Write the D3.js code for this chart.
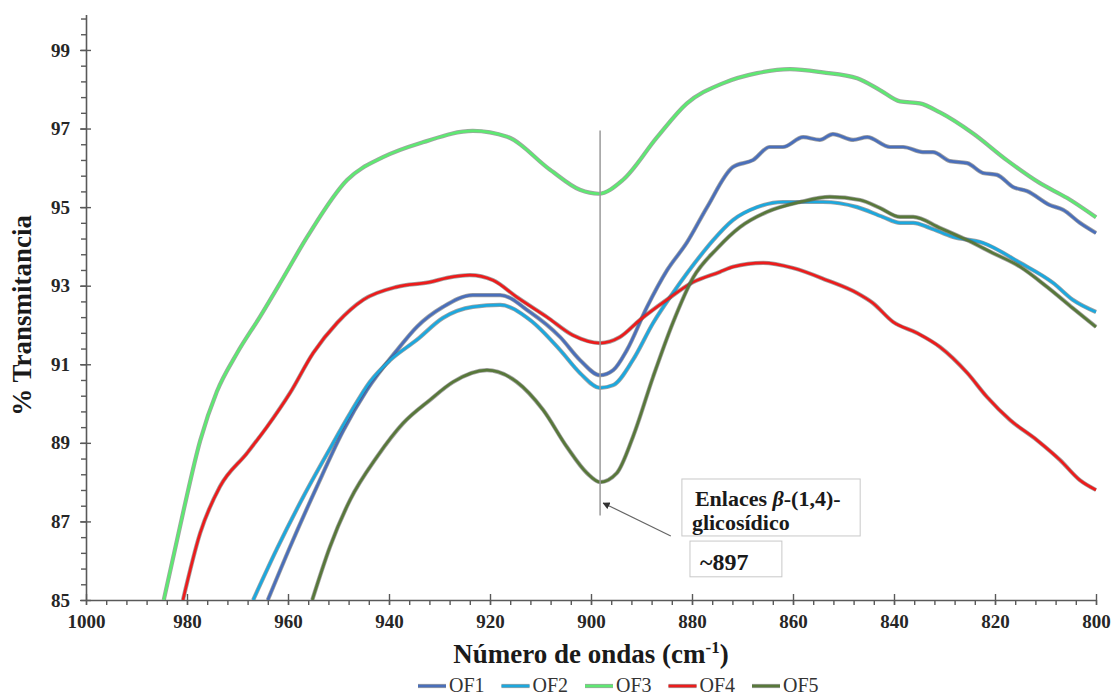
<!DOCTYPE html>
<html>
<head>
<meta charset="utf-8">
<script src="https://cdn.jsdelivr.net/npm/d3@7/dist/d3.min.js"></script>
<style>
  html, body { margin: 0; padding: 0; background: #fff; }
  svg { display: block; font-family: "Liberation Serif", "Times New Roman", serif; }
</style>
</head>
<body>
<svg id="chart" width="1113" height="696"></svg>
<script>
// ---------- DATA ----------
const seriesNames = ["OF1", "OF2", "OF3", "OF4", "OF5"];

const of1Wn = [964.0, 959.6, 954.3, 949.1, 944.4, 938.4, 934.5, 929.3, 923.4, 918.0, 912.1, 906.1, 902.2, 898.2, 895.6, 892.9, 888.9, 884.9, 881.0, 877.0, 871.9, 867.9, 864.6, 862.0, 858.0, 854.7, 852.1, 848.1, 845.3, 840.8, 838.2, 834.3, 832.3, 828.9, 825.5, 822.4, 819.6, 816.4, 813.7, 809.1, 806.5, 803.2, 800];
const of1T  = [85.0, 86.35, 87.88, 89.30, 90.34, 91.36, 91.95, 92.46, 92.76, 92.76, 92.33, 91.69, 91.11, 90.72, 90.85, 91.36, 92.46, 93.40, 94.10, 95.00, 96.02, 96.20, 96.53, 96.53, 96.78, 96.71, 96.86, 96.71, 96.78, 96.53, 96.53, 96.40, 96.40, 96.17, 96.12, 95.87, 95.82, 95.51, 95.41, 95.05, 94.93, 94.60, 94.34];

const of2Wn = [966.9, 962.2, 957.0, 951.7, 947.7, 943.8, 939.8, 934.5, 929.3, 923.4, 918.0, 912.1, 906.1, 902.2, 898.2, 895.6, 891.7, 887.7, 883.8, 877.8, 875.8, 871.9, 867.1, 862.0, 854.1, 847.3, 842.2, 838.8, 836.2, 832.9, 828.3, 822.4, 815.0, 808.5, 804.6, 800];
const of2T  = [85.0, 86.30, 87.62, 88.85, 89.75, 90.55, 91.10, 91.62, 92.18, 92.46, 92.51, 92.13, 91.36, 90.78, 90.40, 90.47, 91.11, 92.05, 92.81, 93.85, 94.16, 94.67, 95.00, 95.13, 95.13, 95.00, 94.75, 94.60, 94.60, 94.47, 94.24, 94.09, 93.58, 93.07, 92.64, 92.33];

const of3Wn = [984.6, 980.8, 977.4, 974.1, 970.1, 965.5, 961.0, 956.2, 948.3, 941.2, 933.3, 923.4, 916.6, 908.1, 902.2, 898.5, 893.7, 886.9, 881.0, 873.9, 867.1, 860.6, 854.1, 847.3, 842.8, 838.8, 834.9, 830.9, 824.4, 817.6, 811.1, 805.7, 800];
const of3T  = [85.0, 87.21, 89.05, 90.30, 91.28, 92.22, 93.19, 94.24, 95.69, 96.27, 96.65, 96.94, 96.79, 95.95, 95.44, 95.34, 95.69, 96.78, 97.64, 98.15, 98.41, 98.51, 98.43, 98.28, 97.98, 97.69, 97.64, 97.41, 96.88, 96.19, 95.61, 95.23, 94.74];

const of4Wn = [980.8, 977.4, 973.5, 968.1, 964.2, 959.6, 955.0, 950.3, 945.1, 938.4, 931.9, 928.5, 924.0, 919.4, 914.7, 908.7, 903.6, 898.2, 894.3, 890.3, 885.0, 879.8, 874.5, 871.9, 865.9, 860.0, 853.3, 847.3, 844.2, 840.2, 835.5, 830.9, 825.5, 821.6, 817.0, 811.7, 807.1, 803.2, 800];
const of4T  = [85.0, 86.70, 87.88, 88.74, 89.40, 90.27, 91.29, 92.05, 92.64, 92.97, 93.09, 93.20, 93.27, 93.14, 92.71, 92.20, 91.74, 91.54, 91.69, 92.13, 92.64, 93.09, 93.35, 93.48, 93.58, 93.45, 93.14, 92.81, 92.56, 92.08, 91.80, 91.44, 90.78, 90.17, 89.58, 89.07, 88.56, 88.05, 87.80];

const of5Wn = [955.2, 951.7, 947.7, 942.4, 937.2, 931.9, 927.3, 920.6, 914.7, 909.5, 904.8, 900.8, 898.2, 894.9, 891.7, 887.7, 883.8, 879.8, 875.0, 870.5, 865.1, 858.6, 852.7, 846.7, 842.8, 838.8, 836.2, 830.9, 825.5, 820.4, 815.0, 809.7, 804.6, 800];
const of5T  = [85.0, 86.35, 87.55, 88.64, 89.50, 90.09, 90.55, 90.85, 90.55, 89.84, 88.90, 88.23, 88.00, 88.23, 89.15, 90.68, 92.05, 93.20, 93.95, 94.49, 94.88, 95.13, 95.26, 95.18, 94.98, 94.75, 94.75, 94.47, 94.16, 93.83, 93.48, 92.97, 92.43, 91.95];

const xMajorTicks = [1000, 980, 960, 940, 920, 900, 880, 860, 840, 820, 800];
const yMajorTicks = [85, 87, 89, 91, 93, 95, 97, 99];

// annotation (in data units)
const peakWn = 898.2;
const peakLine = [96.95, 87.15];
const arrowTail = [884.2, 86.63];
const arrowHead = [897.6, 87.47];
const box1 = [882.0, 846.7, 88.08, 86.63];
const box2 = [880.4, 862.2, 86.50, 85.59];

// ---------- STYLE ----------
const colors = ["#4a6fba", "#1ca8de", "#5ee872", "#ec1c1c", "#58783a"];
const seriesData = [
  [of1Wn, of1T], [of2Wn, of2T], [of3Wn, of3T], [of4Wn, of4T], [of5Wn, of5T]
].map(([w, t], i) => ({ name: seriesNames[i], color: colors[i], pts: w.map((v, j) => ({ x: v, y: t[j] })) }));

const svg = d3.select("#chart");
const x = d3.scaleLinear().domain([1000, 800]).range([86, 1096]);
const y = d3.scaleLinear().domain([85, 99.9]).range([600, 14.6]);
const axisColor = "#595959";
const serif = "Liberation Serif, Times New Roman, serif";

// clip
svg.append("defs").append("clipPath").attr("id", "plotClip")
  .append("rect").attr("x", x(1000)).attr("y", y(99.9)).attr("width", x(800) - x(1000) + 2).attr("height", y(85) - y(99.9));

// ---------- AXES ----------
const xMinor = d3.range(1000, 799, -4);
const yMinor = d3.range(0, 38).map(i => +(85 + i * 0.4).toFixed(1)).filter(v => v <= 99.9);

svg.append("g").attr("transform", `translate(0,${y(85)})`)
  .call(d3.axisBottom(x).tickValues(xMinor).tickFormat("").tickSize(5).tickSizeOuter(0))
  .call(g => g.select(".domain").remove())
  .call(g => g.selectAll("line").attr("stroke", axisColor).attr("stroke-width", 1.4));
svg.append("g").attr("transform", `translate(${x(1000)},0)`)
  .call(d3.axisLeft(y).tickValues(yMinor).tickFormat("").tickSize(5).tickSizeOuter(0))
  .call(g => g.select(".domain").remove())
  .call(g => g.selectAll("line").attr("stroke", axisColor).attr("stroke-width", 1.4));

svg.append("g").attr("transform", `translate(0,${y(85)})`)
  .call(d3.axisBottom(x).tickValues(xMajorTicks).tickFormat(d3.format("d")).tickSize(5).tickSizeOuter(0).tickPadding(10))
  .call(g => g.select(".domain").attr("stroke", axisColor).attr("stroke-width", 1.6))
  .call(g => g.selectAll(".tick line").attr("stroke", axisColor).attr("stroke-width", 1.4).attr("y1", -6))
  .call(g => g.selectAll("text").attr("fill", "#262626").attr("font-size", 19).attr("font-weight", "bold")
    .attr("font-family", serif));

svg.append("g").attr("transform", `translate(${x(1000)},0)`)
  .call(d3.axisLeft(y).tickValues(yMajorTicks).tickFormat(d3.format("d")).tickSize(6).tickSizeOuter(0).tickPadding(10))
  .call(g => g.select(".domain").attr("stroke", axisColor).attr("stroke-width", 1.6))
  .call(g => g.selectAll(".tick line").attr("stroke", axisColor).attr("stroke-width", 1.4).attr("x1", 5))
  .call(g => g.selectAll("text").attr("fill", "#262626").attr("font-size", 19).attr("font-weight", "bold")
    .attr("font-family", serif));

// axis titles
svg.append("text")
  .attr("transform", `translate(31,${(y(85) + y(99.9)) / 2 + 8}) rotate(-90)`)
  .attr("text-anchor", "middle").attr("font-family", serif).attr("font-size", 27).attr("font-weight", "bold").attr("fill", "#1a1a1a")
  .text("% Transmitancia");

const xt = svg.append("text")
  .attr("x", (x(1000) + x(800)) / 2).attr("y", 663)
  .attr("text-anchor", "middle").attr("font-family", serif).attr("font-size", 27).attr("font-weight", "bold").attr("fill", "#1a1a1a");
xt.append("tspan").text("Número de ondas (cm");
xt.append("tspan").attr("font-size", 17).attr("dy", -10).text("-1");
xt.append("tspan").attr("dy", 10).text(")");

// ---------- LINES ----------
const line = d3.line().x(d => x(d.x)).y(d => y(d.y)).curve(d3.curveMonotoneX);
const plot = svg.append("g").attr("clip-path", "url(#plotClip)");

svg.append("line")
  .attr("x1", x(peakWn)).attr("x2", x(peakWn)).attr("y1", y(peakLine[0])).attr("y2", y(peakLine[1]))
  .attr("stroke", "#9a9a9a").attr("stroke-width", 1.5);

seriesData.forEach(s => {
  plot.append("path").datum(s.pts).attr("d", line)
    .attr("fill", "none").attr("stroke", "#555").attr("stroke-opacity", 0.55).attr("stroke-width", 4.2)
    .attr("stroke-linejoin", "round");
  plot.append("path").datum(s.pts).attr("d", line)
    .attr("fill", "none").attr("stroke", s.color).attr("stroke-width", 2.7)
    .attr("stroke-linejoin", "round");
});

// ---------- ANNOTATION ----------
svg.append("defs").append("marker").attr("id", "arrowHead")
  .attr("viewBox", "0 0 10 10").attr("refX", 9).attr("refY", 5)
  .attr("markerWidth", 6).attr("markerHeight", 6).attr("orient", "auto")
  .append("path").attr("d", "M0,0 L10,5 L0,10 z").attr("fill", "#333");

svg.append("line")
  .attr("x1", x(arrowTail[0])).attr("y1", y(arrowTail[1]))
  .attr("x2", x(arrowHead[0])).attr("y2", y(arrowHead[1]))
  .attr("stroke", "#666").attr("stroke-width", 1.2).attr("marker-end", "url(#arrowHead)");

svg.append("rect")
  .attr("x", x(box1[0])).attr("y", y(box1[2]))
  .attr("width", x(box1[1]) - x(box1[0])).attr("height", y(box1[3]) - y(box1[2]))
  .attr("fill", "#fff").attr("stroke", "#c8c8c8").attr("stroke-width", 1);

const t1 = svg.append("text").attr("x", x(box1[0]) + 13).attr("y", y(box1[2]) + 27)
  .attr("font-family", serif).attr("font-size", 22).attr("font-weight", "bold").attr("fill", "#1a1a1a");
t1.append("tspan").text("Enlaces ");
t1.append("tspan").attr("font-style", "italic").text("β");
t1.append("tspan").text("-(1,4)-");
svg.append("text").attr("x", x(box1[0]) + 10).attr("y", y(box1[2]) + 51)
  .attr("font-family", serif).attr("font-size", 22).attr("font-weight", "bold").attr("fill", "#1a1a1a").text("glicosídico");

svg.append("rect")
  .attr("x", x(box2[0])).attr("y", y(box2[2]))
  .attr("width", x(box2[1]) - x(box2[0])).attr("height", y(box2[3]) - y(box2[2]))
  .attr("fill", "#fff").attr("stroke", "#c8c8c8").attr("stroke-width", 1);
svg.append("text").attr("x", x(box2[0]) + 10).attr("y", y(box2[2]) + 29)
  .attr("font-family", serif).attr("font-size", 24).attr("font-weight", "bold").attr("fill", "#1a1a1a").text("~897");

// ---------- LEGEND ----------
const legendX0 = 418, legendStep = 83.5, legendY = 686;
const lg = svg.append("g");
seriesData.forEach((s, i) => {
  const gx = legendX0 + i * legendStep;
  lg.append("line").attr("x1", gx).attr("x2", gx + 28).attr("y1", legendY).attr("y2", legendY)
    .attr("stroke", "#555").attr("stroke-opacity", 0.55).attr("stroke-width", 4.2);
  lg.append("line").attr("x1", gx).attr("x2", gx + 28).attr("y1", legendY).attr("y2", legendY)
    .attr("stroke", s.color).attr("stroke-width", 2.7);
  lg.append("text").attr("x", gx + 31).attr("y", 692).attr("font-family", serif)
    .attr("font-size", 20).attr("fill", "#333").text(s.name);
});
</script>
</body>
</html>
